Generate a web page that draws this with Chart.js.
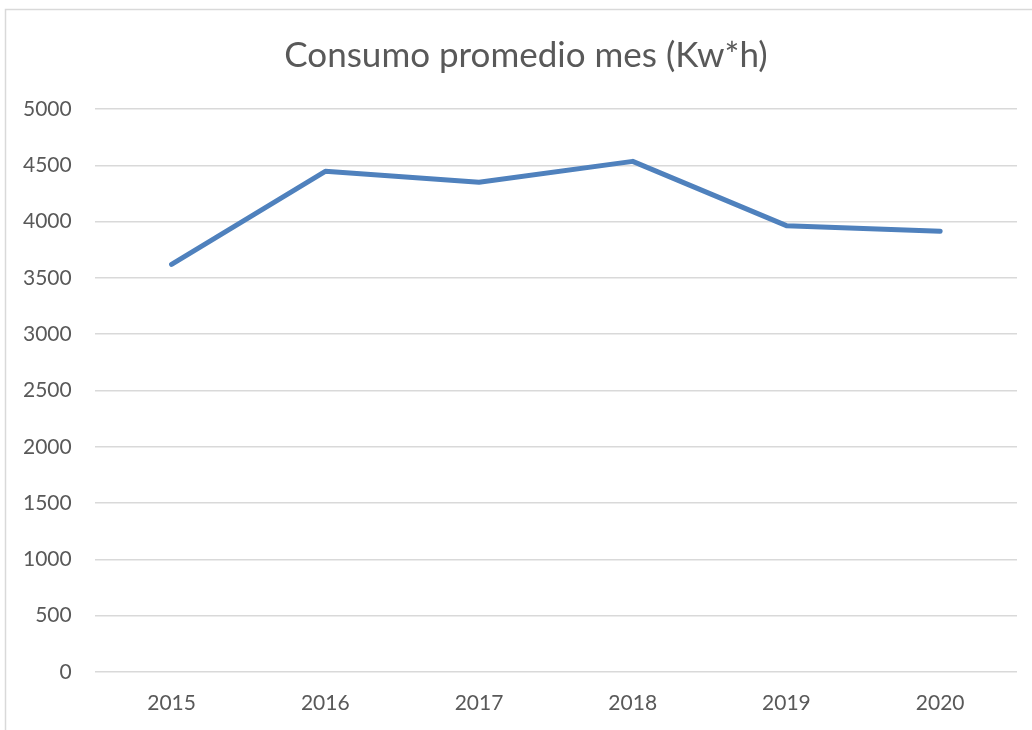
<!DOCTYPE html>
<html>
<head>
<meta charset="utf-8">
<script src="https://cdn.jsdelivr.net/npm/chart.js@4"></script>
<style>
  html, body { margin: 0; padding: 0; background: #ffffff; }
  #wrap { width: 1032px; height: 730px; }
</style>
</head>
<body>
<div id="wrap"><canvas id="chart" width="1032" height="730"></canvas></div>
<script>
// Average monthly consumption per year
const years = ['2015', '2016', '2017', '2018', '2019', '2020'];
const consumo = [3620, 4447, 4349, 4535, 3964, 3914];
const yTicks = [0, 500, 1000, 1500, 2000, 2500, 3000, 3500, 4000, 4500, 5000];
const chartTitle = 'Consumo promedio mes (Kw*h)';

const textColor = '#595959';
const gridColor = '#d9d9d9';
const lineColor = '#4f81bd';

// light outline around the chart frame; title box starts inside the frame
const frame = {
  id: 'frame',
  afterLayout(chart) {
    if (chart.titleBlock) chart.titleBlock.left = 35;
  },
  beforeDraw(chart) {
    const ctx = chart.ctx;
    ctx.save();
    ctx.fillStyle = '#ffffff';
    ctx.fillRect(0, 0, chart.width, chart.height);
    ctx.strokeStyle = gridColor;
    ctx.lineWidth = 1.5;
    ctx.beginPath();
    ctx.moveTo(5.5, chart.height + 2);
    ctx.lineTo(5.5, 9.5);
    ctx.lineTo(chart.width + 2, 9.5);
    ctx.stroke();
    ctx.restore();
  }
};

new Chart(document.getElementById('chart'), {
  type: 'line',
  data: {
    labels: years,
    datasets: [{
      label: 'Consumo',
      data: consumo,
      borderColor: lineColor,
      backgroundColor: lineColor,
      borderWidth: 5,
      borderCapStyle: 'round',
      borderJoinStyle: 'round',
      pointRadius: 0,
      pointHoverRadius: 0,
      tension: 0,
      fill: false
    }]
  },
  options: {
    responsive: false,
    animation: false,
    events: [],
    layout: { padding: { left: 0, right: 15, top: 0, bottom: 0 } },
    plugins: {
      legend: { display: false },
      tooltip: { enabled: false },
      title: {
        display: true,
        text: chartTitle,
        color: textColor,
        font: { family: 'Lato', size: 35, weight: 'normal' },
        padding: { top: 35, bottom: 32 }
      }
    },
    scales: {
      x: {
        type: 'category',
        offset: true,
        afterFit(scale) {
          scale.height = 58;
        },
        grid: { display: false, drawTicks: false },
        border: { display: false },
        ticks: {
          color: textColor,
          font: { family: 'Lato', size: 21 },
          padding: 19,
          maxRotation: 0
        }
      },
      y: {
        min: 0,
        max: 5000,
        afterBuildTicks(scale) {
          scale.ticks = yTicks.map(v => ({ value: v }));
        },
        grid: { color: gridColor, lineWidth: 1.5, drawTicks: false },
        border: { display: false },
        ticks: {
          color: textColor,
          font: { family: 'Lato', size: 21 },
          padding: 23,
          callback: v => String(v)
        }
      }
    }
  },
  plugins: [frame]
});
</script>
</body>
</html>
